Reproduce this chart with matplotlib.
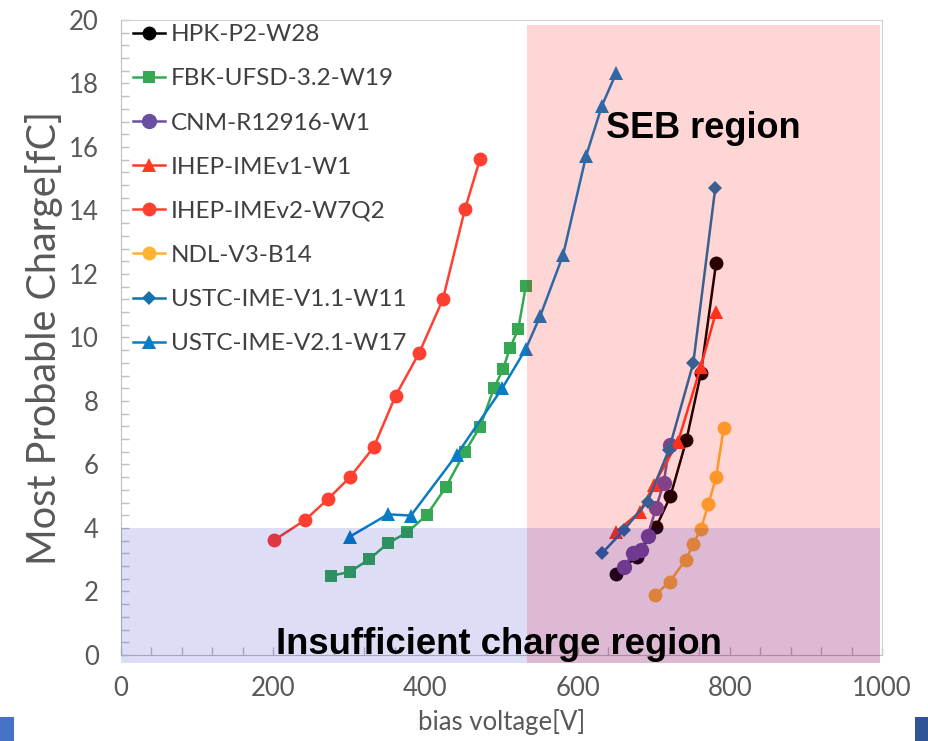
import matplotlib
matplotlib.use("Agg")
import matplotlib.pyplot as plt
from matplotlib.patches import Rectangle
from matplotlib.ticker import MultipleLocator

# data (bias voltage [V], most probable charge [fC])
hpk_v = [650, 678, 703, 722, 743, 762, 782]
hpk_q = [2.55, 3.1, 4.02, 5.0, 6.77, 8.87, 12.34]

fbk_v = [276, 301, 326, 351, 376, 402, 427, 452, 472, 490, 502, 511, 522, 532]
fbk_q = [2.49, 2.62, 3.01, 3.52, 3.86, 4.41, 5.29, 6.40, 7.19, 8.40, 9.0, 9.66, 10.26, 11.62]

cnm_v = [661, 673, 683, 692, 703, 713, 721]
cnm_q = [2.78, 3.2, 3.3, 3.75, 4.62, 5.41, 6.61]

ihep1_v = [651, 682, 700, 732, 762, 782]
ihep1_q = [3.88, 4.51, 5.35, 6.72, 9.08, 10.81]

ihep2_v = [201, 242, 272, 301, 332, 361, 392, 423, 452, 472]
ihep2_q = [3.61, 4.25, 4.91, 5.6, 6.54, 8.17, 9.52, 11.2, 14.04, 15.63]

ndl_v = [702, 721, 742, 752, 762, 772, 782, 792]
ndl_q = [1.89, 2.31, 2.99, 3.5, 3.96, 4.76, 5.6, 7.14]

ustc11_v = [632, 661, 692, 720, 752, 781]
ustc11_q = [3.2, 3.94, 4.83, 6.46, 9.19, 14.72]

ustc21_v = [301, 351, 381, 441, 501, 532, 551, 581, 611, 632, 651]
ustc21_q = [3.73, 4.43, 4.39, 6.30, 8.40, 9.64, 10.68, 12.6, 15.7, 17.3, 18.34]

series = [
    ("HPK-P2-W28", hpk_v, hpk_q, "#000000", "o", 10),
    ("FBK-UFSD-3.2-W19", fbk_v, fbk_q, "#35a853", "s", 8),
    ("CNM-R12916-W1", cnm_v, cnm_q, "#6a4fa3", "o", 11),
    ("IHEP-IMEv1-W1", ihep1_v, ihep1_q, "#ff3a22", "^", 9.5),
    ("IHEP-IMEv2-W7Q2", ihep2_v, ihep2_q, "#ff4030", "o", 10),
    ("NDL-V3-B14", ndl_v, ndl_q, "#ffb331", "o", 10),
    ("USTC-IME-V1.1-W11", ustc11_v, ustc11_q, "#1570ac", "D", 7.5),
    ("USTC-IME-V2.1-W17", ustc21_v, ustc21_q, "#0a7cc4", "^", 9.5),
]

fig = plt.figure(figsize=(9.29, 7.41), dpi=100)
ax = fig.add_axes([0.1302, 0.1161, 0.8192, 0.857])

for label, v, q, c, m, ms in series:
    ax.plot(v, q, color=c, marker=m, markersize=ms, markeredgewidth=0,
            linewidth=1.8, label=label, zorder=2)

# shaded regions drawn over the data, as in the original slide
ax.add_patch(Rectangle((533, -0.25), 464, 20.1, facecolor="#ff0000",
                       alpha=0.16, edgecolor="none", zorder=3, clip_on=False))
ax.add_patch(Rectangle((0, -0.25), 997, 4.25, facecolor="#0000c0",
                       alpha=0.135, edgecolor="none", zorder=3, clip_on=False))

ax.text(638, 16.28, "SEB region", fontsize=26, fontweight="bold",
        family="Liberation Sans", ha="left", va="baseline", zorder=5)
ax.text(204, 0.03, "Insufficient charge region", fontsize=26.3,
        fontweight="bold", family="Liberation Sans", ha="left",
        va="baseline", zorder=5)

ax.set_xlim(0, 1000)
ax.set_ylim(0, 20)
ax.xaxis.set_major_locator(MultipleLocator(200))
ax.xaxis.set_minor_locator(MultipleLocator(40))
ax.yaxis.set_major_locator(MultipleLocator(2))
ax.yaxis.set_minor_locator(MultipleLocator(0.4))
ax.tick_params(which="both", direction="in", length=6, width=1,
               color="#bfbfbf", labelcolor="#595959", labelsize=18.5)
ax.tick_params(axis="y", pad=16)
ax.tick_params(axis="x", pad=15)
for lab in ax.get_xticklabels() + ax.get_yticklabels():
    lab.set_family("Lato")
for sp in ax.spines.values():
    sp.set_color("#d0d0d0")
ax.spines["left"].set_color("#bfbfbf")
ax.spines["bottom"].set_color("#bfbfbf")

ax.set_xlabel("bias voltage[V]", fontsize=18.5, color="#595959",
              family="Lato", labelpad=6)
ax.set_ylabel("Most Probable Charge[fC]", fontsize=28.5, color="#595959",
              family="Lato", labelpad=4)

leg = ax.legend(loc="upper left", bbox_to_anchor=(0.016, 0.993), frameon=False,
                fontsize=17.5, handlelength=1.3, handletextpad=0.25,
                labelspacing=0.95, borderpad=0, borderaxespad=0)
for t in leg.get_texts():
    t.set_color("#404040")
    t.set_family("Lato")
leg.set_zorder(6)

# slide decoration squares in the bottom corners
fig.patches.append(Rectangle((0, 0), 14 / 929, 24 / 741, facecolor="#4472c4",
                             transform=fig.transFigure, figure=fig))
fig.patches.append(Rectangle((915 / 929, 0), 14 / 929, 24 / 741,
                             facecolor="#2f5597", transform=fig.transFigure,
                             figure=fig))

fig.savefig("out.png", dpi=100)
